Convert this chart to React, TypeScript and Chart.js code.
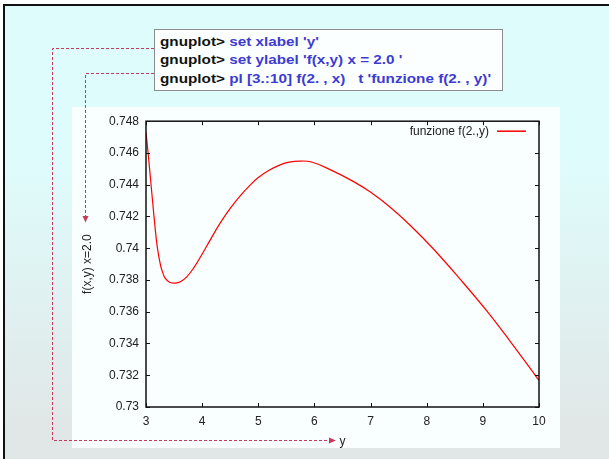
import React, { useEffect, useRef } from "react";
import { Chart, registerables } from "chart.js";

Chart.register(...registerables);

// ---- data ----
const xValues = [
  3, 3.04, 3.09, 3.14, 3.2, 3.26, 3.3, 3.34, 3.42, 3.52, 3.62, 3.725, 3.85, 3.99, 4.15, 4.32,
  4.5, 4.67, 4.85, 5.0, 5.2, 5.39, 5.55, 5.74, 5.95, 6.28, 6.69, 6.99, 7.35, 7.7, 8.12,
  8.59, 9.08, 9.48, 9.93, 10,
];
const yValues = [
  0.7473, 0.7459, 0.744, 0.7421, 0.7401, 0.7389, 0.73845, 0.73812, 0.73786, 0.7378, 0.7379, 0.73819,
  0.73876, 0.73957, 0.74056, 0.74158, 0.74251, 0.74327, 0.74396, 0.74445, 0.74492, 0.74525,
  0.74542, 0.74549, 0.74543, 0.74495, 0.74421, 0.74355, 0.74258, 0.74146, 0.73995,
  0.73807, 0.73601, 0.73417, 0.73201, 0.73167,
];
const xTickValues = [3, 4, 5, 6, 7, 8, 9, 10];
const xTickLabels = ["3", "4", "5", "6", "7", "8", "9", "10"];
const yTickValues = [0.73, 0.732, 0.734, 0.736, 0.738, 0.74, 0.742, 0.744, 0.746, 0.748];
const yTickLabels = ["0.73", "0.732", "0.734", "0.736", "0.738", "0.74", "0.742", "0.744", "0.746", "0.748"];
const seriesLabel = "funzione f(2.,y)";
const xTitle = "y";
const yTitle = "f(x,y) x=2.0";
const promptText = "gnuplot>";
const commandTexts = [" set xlabel 'y'", " set ylabel 'f(x,y) x = 2.0 '", " pl [3.:10] f(2. , x)   t 'funzione f(2. , y)'"];

const FONT = 'Arial, "Liberation Sans", sans-serif';

const gnuFrame = {
  id: "gnuFrame",
  afterDatasetsDraw(chart: any) {
    const { ctx, chartArea, scales } = chart;
    const { left, right, top, bottom } = chartArea;
    ctx.save();
    ctx.strokeStyle = "#111";
    ctx.lineWidth = 1;
    ctx.beginPath();
    const tl = 4;
    for (const v of xTickValues) {
      const p = Math.round(scales.x.getPixelForValue(v)) + 0.5;
      ctx.moveTo(p, bottom);
      ctx.lineTo(p, bottom - tl);
      ctx.moveTo(p, top);
      ctx.lineTo(p, top + tl);
    }
    for (const v of yTickValues) {
      const p = Math.round(scales.y.getPixelForValue(v)) + 0.5;
      ctx.moveTo(left, p);
      ctx.lineTo(left + tl, p);
      ctx.moveTo(right, p);
      ctx.lineTo(right - tl, p);
    }
    ctx.stroke();
    ctx.lineWidth = 1.5;
    ctx.strokeRect(left, top, right - left, bottom - top);

    // gnuplot-style key, top right inside the plot
    const ds = chart.data.datasets[0];
    const ky = top + 10;
    const lineEnd = right - 13;
    const lineStart = lineEnd - 29;
    ctx.font = `12px ${FONT}`;
    ctx.fillStyle = "#222";
    ctx.textAlign = "right";
    ctx.textBaseline = "middle";
    ctx.fillText(ds.label, lineStart - 8, ky);
    ctx.strokeStyle = ds.borderColor;
    ctx.lineWidth = 1.5;
    ctx.beginPath();
    ctx.moveTo(lineStart, ky);
    ctx.lineTo(lineEnd, ky);
    ctx.stroke();
    ctx.restore();
  },
};

function PlotChart() {
  const ref = useRef<HTMLCanvasElement | null>(null);
  useEffect(() => {
    if (!ref.current) return;
    const points = xValues.map((x, i) => ({ x, y: yValues[i] }));
    const chart = new Chart(ref.current, {
      type: "line",
      data: {
        datasets: [
          {
            label: seriesLabel,
            data: points,
            borderColor: "#ff0000",
            borderWidth: 1.2,
            pointRadius: 0,
            fill: false,
            tension: 0.4,
          },
        ],
      },
      options: {
        animation: false,
        responsive: false,
        devicePixelRatio: 1,
        layout: { padding: { top: 13, right: 21, left: 0, bottom: 0 } },
        plugins: { legend: { display: false }, tooltip: { enabled: false } },
        scales: {
          x: {
            type: "linear",
            min: 3,
            max: 10,
            grid: { display: false, drawTicks: false },
            border: { display: false },
            afterBuildTicks: (s: any) => {
              s.ticks = xTickValues.map((v) => ({ value: v }));
            },
            afterFit: (s: any) => {
              s.height = 41;
            },
            ticks: {
              padding: 7,
              maxRotation: 0,
              autoSkip: false,
              color: "#222",
              font: { family: FONT, size: 12 },
              callback: (_v: any, i: number) => xTickLabels[i],
            },
            title: {
              display: true,
              text: xTitle,
              color: "#222",
              font: { family: FONT, size: 12, lineHeight: 1 },
              padding: { top: 0, bottom: 0 },
            },
          },
          y: {
            type: "linear",
            min: 0.73,
            max: 0.748,
            grid: { display: false, drawTicks: false },
            border: { display: false },
            afterBuildTicks: (s: any) => {
              s.ticks = yTickValues.map((v) => ({ value: v }));
            },
            afterFit: (s: any) => {
              s.width = 74;
            },
            ticks: {
              padding: 7,
              autoSkip: false,
              color: "#222",
              font: { family: FONT, size: 12 },
              callback: (_v: any, i: number) => yTickLabels[i],
            },
            title: {
              display: true,
              text: yTitle,
              color: "#222",
              font: { family: FONT, size: 12 },
              padding: { top: 8, bottom: 0 },
            },
          },
        },
      },
      plugins: [gnuFrame],
    } as any);
    return () => chart.destroy();
  }, []);
  return (
    <canvas
      ref={ref}
      width={488}
      height={341}
      style={{ position: "absolute", left: 72, top: 107, width: 488, height: 341, display: "block" }}
    />
  );
}

export default function App() {
  const dash = "#c63a5c";
  return (
    <div style={{ position: "fixed", left: 0, top: 0, width: 609, height: 459, overflow: "hidden", background: "#ffffff" }}>
      {/* slide */}
      <div
        style={{
          position: "absolute",
          left: 3,
          top: 4,
          width: 640,
          height: 500,
          borderLeft: "2px solid #111",
          borderTop: "2px solid #111",
          background: "linear-gradient(to bottom, #dffcfc 0px, #dffcfc 150px, #e1e7e7 420px, #e1e6e6 500px)",
        }}
      />
      {/* white plot panel */}
      <div style={{ position: "absolute", left: 72, top: 107, width: 488, height: 341, background: "#f9fefe" }} />
      <PlotChart />
      {/* command box */}
      <div
        style={{
          position: "absolute",
          left: 154,
          top: 29,
          width: 347,
          height: 60,
          border: "1px solid #8c8c8c",
          background: "#fcffff",
        }}
      >
        <div
          style={{
            position: "absolute",
            left: 5,
            top: 3,
            transform: "scaleX(1.175)",
            transformOrigin: "left top",
            fontFamily: FONT,
            fontWeight: "bold",
            fontSize: 13,
            lineHeight: "18.3px",
            whiteSpace: "pre",
          }}
        >
          {commandTexts.map((c, i) => (
            <div key={i}>
              <span style={{ color: "#111" }}>{promptText}</span>
              <span style={{ color: "#3c3cd2" }}>{c}</span>
            </div>
          ))}
        </div>
      </div>
      {/* dashed connectors */}
      <svg width={609} height={459} style={{ position: "absolute", left: 0, top: 0, pointerEvents: "none" }}>
        <path d="M154 48.5 H52.5 V440.5 H330" fill="none" stroke={dash} strokeWidth={1} strokeDasharray="3 2" />
        <polygon points="336,440.5 329,437.5 329,443.5" fill={dash} />
        <path d="M154 73.5 H85.5 V216" fill="none" stroke={dash} strokeWidth={1} strokeDasharray="3 2" />
        <polygon points="85.5,222.5 82.5,216 88.5,216" fill={dash} />
      </svg>
    </div>
  );
}
